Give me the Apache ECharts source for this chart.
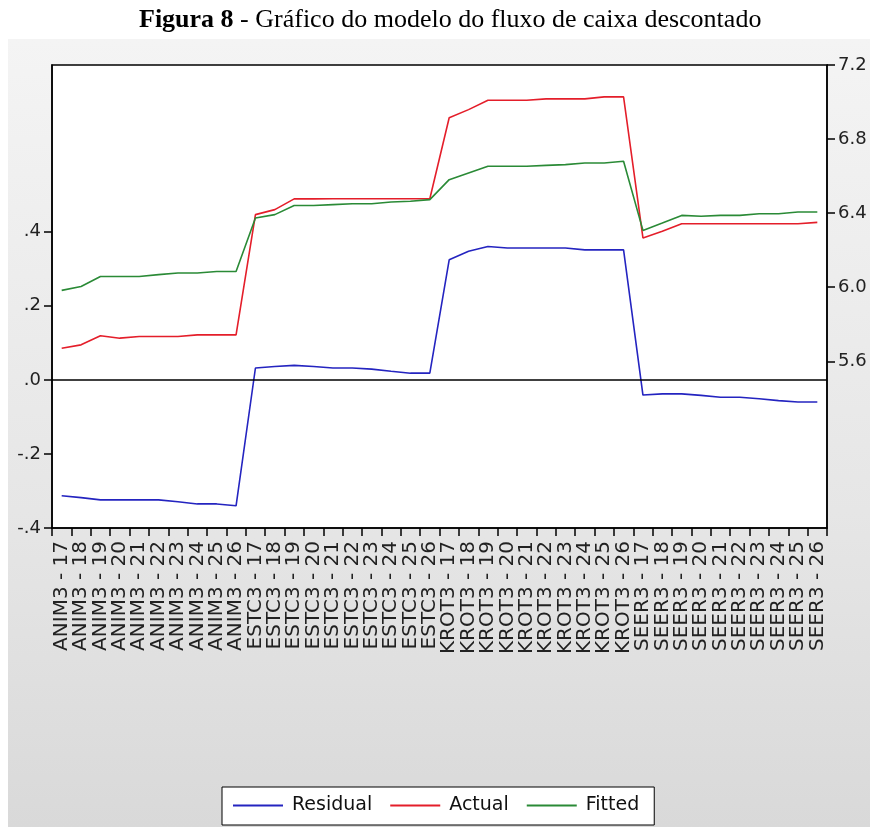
<!DOCTYPE html>
<html>
<head>
<meta charset="utf-8">
<script src="https://cdn.jsdelivr.net/npm/echarts@6/dist/echarts.min.js"></script>
<style>
  html, body { margin: 0; padding: 0; background: #ffffff; }
  #wrap { position: relative; width: 870px; height: 827px; }
  #bg { position: absolute; left: 8px; top: 39px; width: 862px; height: 788px;
        background: linear-gradient(to bottom, #f4f4f4 0%, #e6e6e6 60%, #d9d9d9 100%); }
  #chart { position: absolute; left: 0; top: 0; width: 870px; height: 827px; }
</style>
</head>
<body>
<div id="wrap">
  <div id="bg"></div>
  <div id="chart"></div>
</div>
<script>
// ---- data ----
const companies = ['ANIM3', 'ESTC3', 'KROT3', 'SEER3'];
const periods = ['17', '18', '19', '20', '21', '22', '23', '24', '25', '26'];
const categories = [];
companies.forEach(c => periods.forEach(p => categories.push(c + ' - ' + p)));

const residual = [
  -0.313, -0.318, -0.324, -0.324, -0.324, -0.324, -0.329, -0.335, -0.335, -0.340,
   0.032,  0.036,  0.039,  0.036,  0.032,  0.032,  0.029,  0.023,  0.018,  0.018,
   0.324,  0.347,  0.360,  0.356,  0.356,  0.356,  0.356,  0.351,  0.351,  0.351,
  -0.041, -0.038, -0.038, -0.042, -0.047, -0.047, -0.051, -0.056, -0.060, -0.060
];
const actual = [
  5.671, 5.689, 5.738, 5.725, 5.734, 5.734, 5.734, 5.743, 5.743, 5.743,
  6.392, 6.419, 6.477, 6.477, 6.478, 6.478, 6.478, 6.478, 6.478, 6.478,
  6.915, 6.959, 7.010, 7.010, 7.010, 7.017, 7.017, 7.017, 7.028, 7.028,
  6.266, 6.302, 6.343, 6.343, 6.343, 6.343, 6.343, 6.343, 6.343, 6.350
];
const fitted = [
  5.983, 6.004, 6.058, 6.058, 6.058, 6.068, 6.077, 6.077, 6.085, 6.085,
  6.374, 6.392, 6.441, 6.441, 6.446, 6.451, 6.451, 6.460, 6.464, 6.473,
  6.581, 6.617, 6.653, 6.653, 6.653, 6.658, 6.662, 6.671, 6.671, 6.680,
  6.307, 6.347, 6.388, 6.383, 6.388, 6.388, 6.397, 6.397, 6.406, 6.406
];
const leftTicks = [-0.4, -0.2, 0, 0.2, 0.4];
const rightTicks = [5.6, 6.0, 6.4, 6.8, 7.2];

// ---- chart ----
const chart = echarts.init(document.getElementById('chart'), null, { renderer: 'canvas' });
const axisFont = 'DejaVu Sans';
const leftFmt = v => {
  const s = (Math.round(v * 10) / 10).toFixed(1);
  return s.replace('0.', '.');
};

chart.setOption({
  animation: false,
  backgroundColor: 'transparent',
  title: {
    text: '{b|Figura 8} - Gráfico do modelo do fluxo de caixa descontado',
    left: 134,
    top: 2,
    textStyle: {
      fontFamily: 'Liberation Serif',
      fontSize: 26,
      fontWeight: 'normal',
      color: '#000',
      rich: {
        b: { fontFamily: 'Liberation Serif', fontSize: 26, fontWeight: 'bold', color: '#000' }
      }
    }
  },
  legend: {
    left: 222,
    top: 787,
    orient: 'horizontal',
    icon: 'rect',
    itemWidth: 50,
    itemHeight: 2,
    itemGap: 18,
    padding: [9, 15, 10, 11],
    backgroundColor: '#ffffff',
    borderColor: '#000000',
    borderWidth: 1,
    borderRadius: 0,
    textStyle: { fontFamily: axisFont, fontSize: 19, color: '#111', padding: [0, 0, 0, 4] },
    data: ['Residual', 'Actual', 'Fitted']
  },
  grid: {
    left: 52, right: 43, top: 65, bottom: 299,
    show: true,
    backgroundColor: '#ffffff',
    borderColor: '#000000',
    borderWidth: 1.5
  },
  xAxis: {
    type: 'category',
    data: categories,
    boundaryGap: true,
    axisLine: { show: true, onZero: false, lineStyle: { color: '#000', width: 1.5 } },
    axisTick: { show: true, alignWithLabel: false, length: 8, inside: false,
                lineStyle: { color: '#000', width: 1.5 } },
    axisLabel: { rotate: 90, interval: 0, margin: 13, fontFamily: axisFont, fontSize: 20, color: '#222' },
    splitLine: { show: false }
  },
  yAxis: [
    {
      type: 'value',
      position: 'left',
      min: -0.4,
      max: 0.85,
      axisLine: { show: true, onZero: false, lineStyle: { color: '#000', width: 1.5 } },
      axisTick: { show: true, length: 8, customValues: leftTicks, lineStyle: { color: '#000', width: 1.5 } },
      axisLabel: { customValues: leftTicks, formatter: leftFmt, margin: 11,
                   fontFamily: axisFont, fontSize: 18, color: '#222' },
      splitLine: { show: false }
    },
    {
      type: 'value',
      position: 'right',
      min: 4.7,
      max: 7.2,
      axisLine: { show: true, onZero: false, lineStyle: { color: '#000', width: 1.5 } },
      axisTick: { show: true, length: 8, customValues: rightTicks, lineStyle: { color: '#000', width: 1.5 } },
      axisLabel: { customValues: rightTicks, formatter: v => v.toFixed(1), margin: 11,
                   fontFamily: axisFont, fontSize: 18, color: '#222' },
      splitLine: { show: false }
    }
  ],
  series: [
    {
      name: 'Residual', type: 'line', yAxisIndex: 0, data: residual,
      symbol: 'none', lineStyle: { color: '#2424c0', width: 1.6 }, itemStyle: { color: '#2424c0' },
      markLine: {
        silent: true, symbol: 'none', label: { show: false },
        lineStyle: { color: '#000', width: 1.5, type: 'solid' },
        data: [{ yAxis: 0 }]
      }
    },
    {
      name: 'Actual', type: 'line', yAxisIndex: 1, data: actual,
      symbol: 'none', lineStyle: { color: '#e41e2a', width: 1.6 }, itemStyle: { color: '#e41e2a' }
    },
    {
      name: 'Fitted', type: 'line', yAxisIndex: 1, data: fitted,
      symbol: 'none', lineStyle: { color: '#2a8a36', width: 1.6 }, itemStyle: { color: '#2a8a36' }
    }
  ]
});
</script>
</body>
</html>
